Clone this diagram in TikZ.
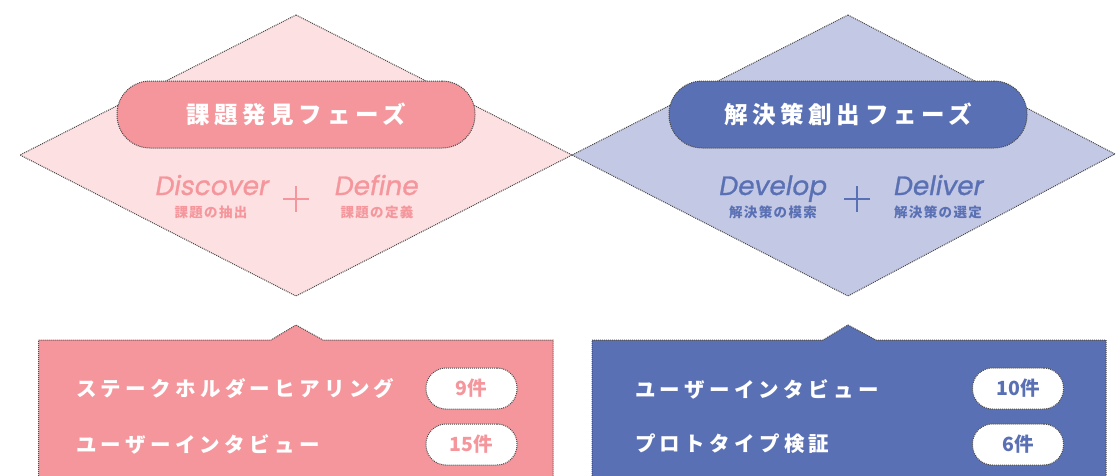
\documentclass[tikz,border=0pt]{standalone}
\usepackage{fontspec}
\newfontfamily\jp{Noto Sans CJK JP}
\newfontfamily\jptitle[LetterSpace=20]{Noto Sans CJK JP}
\newfontfamily\jprow[LetterSpace=21]{Noto Sans CJK JP}
\newfontfamily\jpsub[LetterSpace=10]{Noto Sans CJK JP}
\newfontfamily\en[FakeSlant=0.18,FakeBold=1]{Poppins}
\definecolor{pinkL}{HTML}{FDE0E1}
\definecolor{pinkM}{HTML}{F5969C}
\definecolor{blueL}{HTML}{C3C8E4}
\definecolor{blueM}{HTML}{5A70B4}
\definecolor{bord}{HTML}{484848}
\tikzset{
  dotb/.style={draw=bord, line width=1pt, dash pattern=on 1pt off 1pt},
  titlepill/.style={dotb, rounded corners=33pt, minimum width=358pt, minimum height=67pt, inner sep=0pt, text=white, font=\jptitle\bfseries\fontsize{23.5pt}{25pt}\selectfont},
  countpill/.style={dotb, fill=white, rounded corners=20pt, minimum width=91pt, minimum height=41pt, inner sep=0pt, font=\jp\bfseries\fontsize{19.5pt}{21pt}\selectfont},
  entext/.style={anchor=base, inner sep=0pt, font=\en\fontsize{26.5pt}{28pt}\selectfont},
  subtext/.style={inner sep=0pt, font=\jpsub\bfseries\fontsize{13.5pt}{15pt}\selectfont},
  rowtext/.style={anchor=west, inner sep=0pt, text=white, font=\jprow\bfseries\fontsize{20.5pt}{22pt}\selectfont},
  plusline/.style={line width=2.2pt},
}
\begin{document}
\begin{tikzpicture}[x=1pt,y=-1pt]
\useasboundingbox (0,0) rectangle (1116,475);
% diamonds
\coordinate (LT) at (296,15);
\coordinate (LL) at (20,155);
\coordinate (M) at (572,155);
\coordinate (LB) at (296,296);
\coordinate (RT) at (848,15);
\coordinate (RR) at (1115,154);
\coordinate (RB) at (848,296);
\path[fill=pinkL, dotb] (LT) -- (M) -- (LB) -- (LL) -- cycle;
\path[fill=blueL, dotb] (RT) -- (RR) -- (RB) -- (M) -- cycle;
% title pills
\node[titlepill, fill=pinkM] (t1) at (296,114.5) {課題発見フェーズ};
\node[titlepill, fill=blueM] (t2) at (848,114.5) {解決策創出フェーズ};
% english and sub texts
\node[entext, text=pinkM] (disc) at (211,195) {Discover};
\node[subtext, text=pinkM] (discs) at (211,212.5) {課題の抽出};
\node[entext, text=pinkM] (defi) at (375.5,195) {Define};
\node[subtext, text=pinkM] (defis) at (377,212.5) {課題の定義};
\draw[plusline, pinkM] (283,199) -- (309,199) (296,186) -- (296,212);
\node[entext, text=blueM] (deve) at (772,195) {Develop};
\node[subtext, text=blueM] (deves) at (773,212.5) {解決策の模索};
\node[entext, text=blueM] (deli) at (937.5,195) {Deliver};
\node[subtext, text=blueM] (delis) at (938,212.5) {解決策の選定};
\draw[plusline, blueM] (844,199) -- (870,199) (857,186) -- (857,212);
% callout boxes
\path[fill=pinkM, dotb] (38.5,480) -- (38.5,340) -- (271,340) -- (296,325) -- (323,340) -- (553,340) -- (553,480);
\path[fill=blueM, dotb] (592,480) -- (592,340) -- (823,340) -- (848,325) -- (876,340) -- (1106,340) -- (1106,480);
% rows
\node[rowtext] (r1) at (76,389) {ステークホルダーヒアリング};
\node[rowtext] (r2) at (76,444) {ユーザーインタビュー};
\node[countpill, text=pinkM] (c1) at (471.5,388.5) {9件};
\node[countpill, text=pinkM] (c2) at (471.5,444.5) {15件};
\node[rowtext] (r3) at (635,389) {ユーザーインタビュー};
\node[rowtext] (r4) at (635,444) {プロトタイプ検証};
\node[countpill, text=blueM] (c3) at (1018,388.5) {10件};
\node[countpill, text=blueM] (c4) at (1018,444.5) {6件};
\end{tikzpicture}
\end{document}
